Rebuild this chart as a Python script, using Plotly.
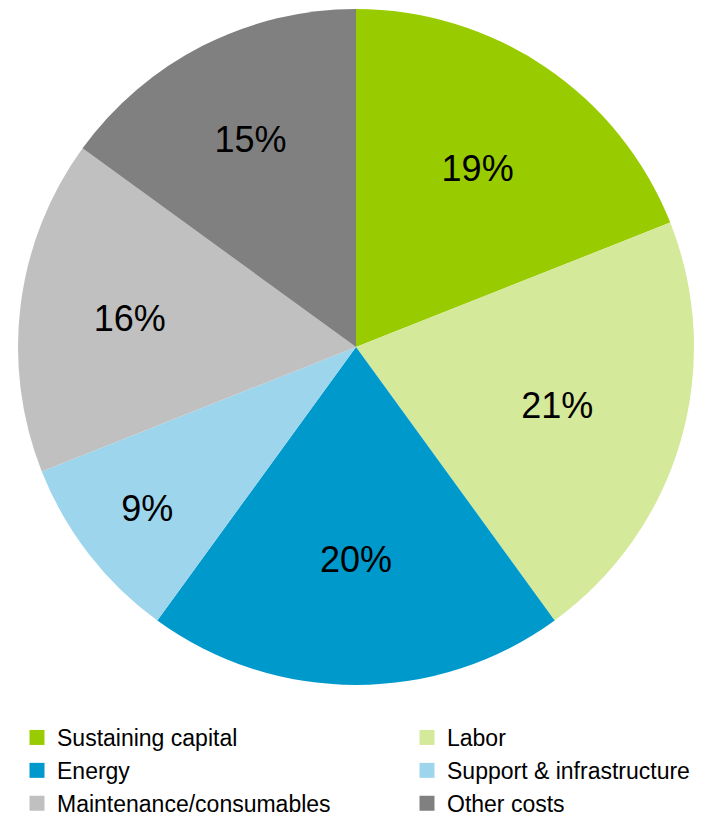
import plotly.graph_objects as go

categories = ["Sustaining capital", "Labor", "Energy", "Support & infrastructure",
              "Maintenance/consumables", "Other costs"]
shares = [19, 21, 20, 9, 16, 15]
colors = ["#99CC00", "#D5E99A", "#0099CC", "#9DD6EC", "#C0C0C0", "#808080"]

W, H = 710, 816
FONT = "Liberation Sans, Arial, Helvetica, sans-serif"

fig = go.Figure()

fig.add_trace(
    go.Pie(
        labels=categories,
        values=shares,
        sort=False,
        direction="clockwise",
        rotation=0,
        marker=dict(colors=colors, line=dict(width=0)),
        texttemplate="%{percent:.0%}",
        textposition="inside",
        insidetextorientation="horizontal",
        textfont=dict(family=FONT, size=36, color="black"),
        domain=dict(x=[18 / W, 694 / W], y=[1 - 685 / H, 1 - 9 / H]),
        showlegend=False,
        hoverinfo="label+percent",
    )
)

# Two-column key: one legend per column, entries laid out row by row
for i, (name, col) in enumerate(zip(categories, colors)):
    fig.add_trace(
        go.Scatter(
            x=[None],
            y=[None],
            mode="markers",
            name=name,
            marker=dict(symbol="square", size=15, color=col, line=dict(width=0)),
            legend="legend" if i % 2 == 0 else "legend2",
            hoverinfo="skip",
        )
    )

legend_style = dict(
    orientation="v",
    xanchor="left",
    yanchor="top",
    y=1 - 716 / H,
    traceorder="normal",
    font=dict(family=FONT, size=23, color="black"),
    itemsizing="trace",
    tracegroupgap=0,
    bgcolor="rgba(0,0,0,0)",
)

fig.update_layout(
    width=W,
    height=H,
    margin=dict(l=0, r=0, t=0, b=0, autoexpand=False),
    paper_bgcolor="white",
    plot_bgcolor="white",
    font=dict(family=FONT, color="black"),
    xaxis=dict(visible=False),
    yaxis=dict(visible=False),
    legend=dict(x=17 / W, **legend_style),
    legend2=dict(x=407 / W, **legend_style),
)

fig.write_html("out.html")
